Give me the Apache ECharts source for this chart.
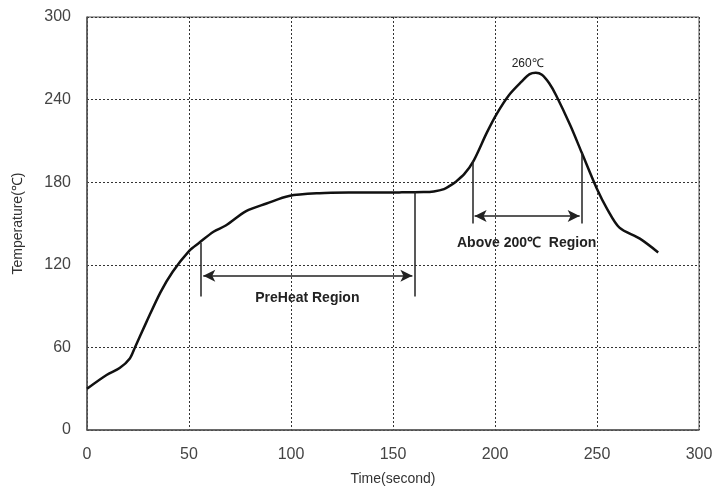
<!DOCTYPE html>
<html>
<head>
<meta charset="utf-8">
<script src="https://cdn.jsdelivr.net/npm/echarts@6/dist/echarts.min.js"></script>
<style>
  html, body { margin: 0; padding: 0; background: #fff; }
  #chart { width: 728px; height: 491px; }
</style>
</head>
<body>
<div id="chart"></div>
<script>
// reflow profile
const timeSec = [0, 9.6, 16, 21, 23.5, 29, 36, 42, 50, 55, 62, 68, 78, 88, 99, 114, 130, 153, 165, 170, 175, 178, 180.5, 185, 189.5, 196, 201, 207, 213, 217, 220, 223, 226.5, 230, 237, 242.5, 250, 255, 261, 271, 280];
const tempC   = [30, 40, 45, 52, 60, 78, 100, 115, 130, 136, 144, 148.5, 159, 164.5, 170, 172, 172.5, 172.6, 172.8, 173.3, 175, 177.5, 180, 186, 195.5, 216, 230, 243.5, 253, 258.5, 259.5, 258, 252, 243, 221, 201.5, 175, 160.5, 147, 139, 129];
const yTicks = [0, 60, 120, 180, 240, 300];

// annotations [x, yTop, yBottom]
const preHeatLines = [[56, 136, 97], [160.5, 173, 97]];
const preHeatArrow = [57, 159.5, 112];
const above200Lines = [[189, 195.5, 150], [242.5, 201.5, 150]];
const above200Arrow = [190, 241.5, 155.5];
const peakLabel = { x: 216, y: 266, text: '260℃' };
const preHeatText = { x: 108, y: 96, text: 'PreHeat Region' };
const above200Text = { x: 215.5, y: 136, text: 'Above 200℃  Region' };

const chart = echarts.init(document.getElementById('chart'));

const vLine = ([x, y1, y2]) => [{ coord: [x, y1] }, { coord: [x, y2] }];
const hArrow = ([x1, x2, y]) => [
  { coord: [x1, y], symbol: 'arrow' },
  { coord: [x2, y], symbol: 'arrow' },
];

const textPoint = (p, bold, size) => ({
  coord: [p.x, p.y],
  symbol: 'circle',
  symbolSize: 0,
  itemStyle: { color: 'transparent' },
  label: {
    show: true,
    formatter: p.text,
    position: 'inside',
    color: '#222',
    fontWeight: bold ? 'bold' : 'normal',
    fontSize: size,
    fontFamily: 'Liberation Sans, Arial, sans-serif',
  },
});

const options = {
  animation: false,
  backgroundColor: '#fff',
  textStyle: { fontFamily: 'Liberation Sans, Arial, sans-serif' },
  grid: { left: 87, right: 29, top: 17, bottom: 59, show: true, borderColor: '#555', borderWidth: 1 },
  xAxis: {
    type: 'value',
    min: 0,
    max: 300,
    interval: 50,
    name: 'Time(second)',
    nameLocation: 'middle',
    nameGap: 42,
    nameTextStyle: { fontSize: 14, color: '#333' },
    axisLine: { lineStyle: { color: '#555', width: 1.5 } },
    axisTick: { show: false },
    axisLabel: { fontSize: 16, color: '#444', margin: 17 },
    splitLine: { lineStyle: { color: '#333', type: [2, 2], width: 1 } },
  },
  yAxis: {
    type: 'value',
    min: 0,
    max: 300,
    interval: 60,
    name: 'Temperature(℃)',
    nameLocation: 'middle',
    nameGap: 62,
    nameTextStyle: { fontSize: 14, color: '#333' },
    axisLine: { show: true, lineStyle: { color: '#555', width: 1.5 } },
    axisTick: { show: false },
    axisLabel: {
      fontSize: 16,
      color: '#444',
      margin: 16,
      formatter: (v) => (yTicks.includes(v) ? String(v) : ''),
    },
    splitLine: { lineStyle: { color: '#333', type: [2, 2], width: 1 } },
  },
  series: [
    {
      type: 'line',
      data: timeSec.map((t, i) => [t, tempC[i]]),
      smooth: 0.3,
      showSymbol: false,
      lineStyle: { color: '#111', width: 2.5 },
      markLine: {
        silent: true,
        symbol: 'none',
        label: { show: false },
        lineStyle: { color: '#222', type: 'solid', width: 1.5 },
        data: [
          vLine(preHeatLines[0]),
          vLine(preHeatLines[1]),
          vLine(above200Lines[0]),
          vLine(above200Lines[1]),
          hArrow(preHeatArrow),
          hArrow(above200Arrow),
        ],
        symbolSize: [9, 12],
      },
      markPoint: {
        silent: true,
        data: [
          textPoint(peakLabel, false, 12),
          textPoint(preHeatText, true, 14),
          textPoint(above200Text, true, 14),
        ],
      },
    },
  ],
};

chart.setOption(options);
</script>
</body>
</html>
